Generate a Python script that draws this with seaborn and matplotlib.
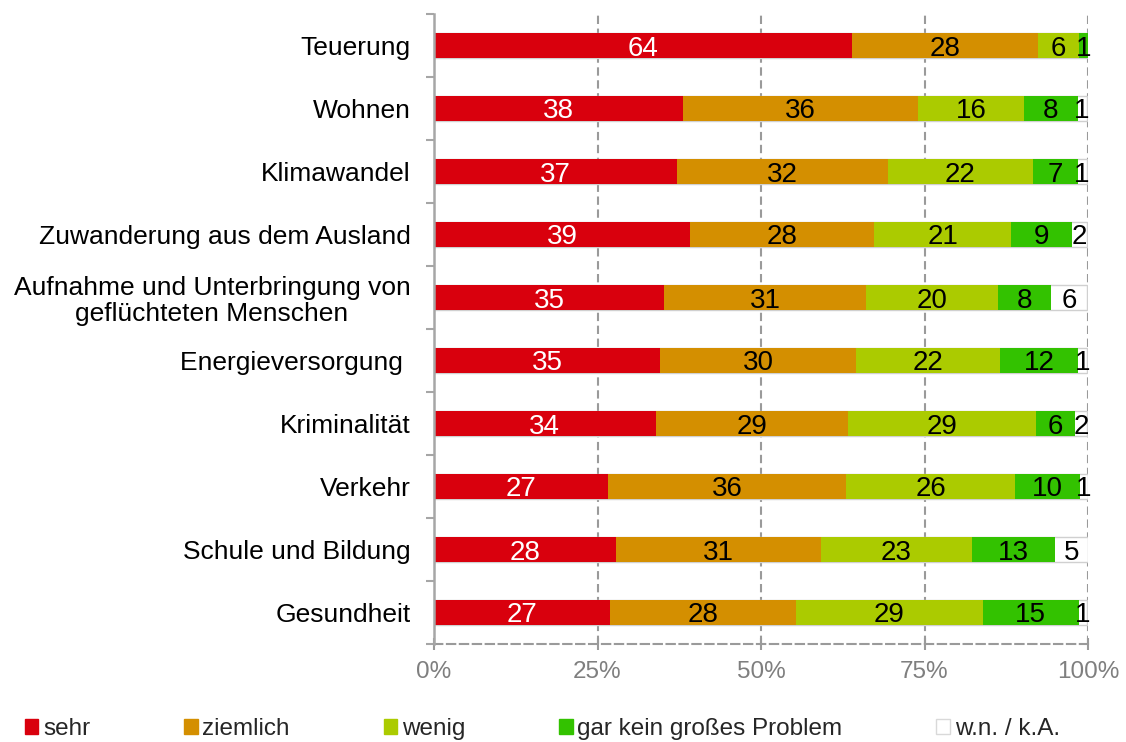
import matplotlib
matplotlib.use("Agg")
import matplotlib.pyplot as plt
import matplotlib.ticker as mticker
from matplotlib.patches import Patch
import numpy as np
import pandas as pd
import seaborn as sns

sns.set_theme(style="white")
plt.rcParams["font.family"] = ["Liberation Sans", "DejaVu Sans"]

# ── data (percent) ───────────────────────────────────────────────────────────
themen = ["Teuerung", "Wohnen", "Klimawandel", "Zuwanderung aus dem Ausland",
          "Aufnahme und Unterbringung von\ngeflüchteten Menschen",
          "Energieversorgung ", "Kriminalität", "Verkehr",
          "Schule und Bildung", "Gesundheit"]
sehr = [63.9, 38.0, 37.1, 39.2, 35.2, 34.6, 33.9, 26.6, 27.9, 26.9]
ziemlich = [28.4, 36.0, 32.3, 28.1, 30.8, 30.0, 29.4, 36.4, 31.2, 28.4]
wenig = [6.4, 16.2, 22.2, 21.0, 20.3, 21.9, 28.7, 25.9, 23.2, 28.6]
gar_kein = [1.3, 8.2, 6.8, 9.2, 8.0, 12.0, 6.0, 9.9, 12.6, 14.7]
wn_ka = [0.0, 1.4, 1.4, 2.3, 5.6, 1.4, 1.9, 1.2, 5.1, 1.3]

series_names = ["sehr", "ziemlich", "wenig", "gar kein großes Problem", "w.n. / k.A."]
series_vals = [sehr, ziemlich, wenig, gar_kein, wn_ka]
colors = ["#d9000d", "#d48f00", "#abcb00", "#33c200", "#ffffff"]
text_colors = ["white", "black", "black", "black", "black"]

df = pd.DataFrame({name: vals for name, vals in zip(series_names, series_vals)},
                  index=themen)
cum = df.cumsum(axis=1)
left = cum - df

# ── figure ───────────────────────────────────────────────────────────────────
fig = plt.figure(figsize=(11.26, 7.42), dpi=100)
ax = fig.add_axes([434 / 1126, 1 - 644 / 742, (1088 - 434) / 1126, 630 / 742])

grid_col = "#9a9a9a"
axis_col = "#a6a6a6"

# stacked bars: draw cumulative layers from the back to the front
for i in range(len(series_names) - 1, -1, -1):
    name = series_names[i]
    edge = "#d0d0d0" if colors[i] == "#ffffff" else colors[i]
    lw = 1.0 if colors[i] == "#ffffff" else 0
    sns.barplot(x=cum[name].values, y=themen, orient="h", color=colors[i],
                width=0.40, edgecolor=edge, linewidth=lw, saturation=1,
                ax=ax, zorder=3)

# value labels
for i, name in enumerate(series_names):
    for j, v in enumerate(df[name].values):
        if v <= 0:
            continue
        ax.text(left[name].values[j] + v / 2, j, f"{v:.0f}",
                ha="center", va="center_baseline", fontsize=20,
                color=text_colors[i], zorder=5)

ax.set_xlim(0, 100)
ax.set_ylim(len(themen) - 0.5, -0.5)
ax.set_xlabel("")
ax.set_ylabel("")

# grid lines (dashed, vertical)
for xv in [25, 50, 75, 100]:
    ax.axvline(xv, color=grid_col, lw=1.5, ls=(0, (4, 2.2)), zorder=1)

# spines
for s in ["top", "right"]:
    ax.spines[s].set_visible(False)
ax.spines["left"].set_color(axis_col)
ax.spines["left"].set_linewidth(1.8)
ax.spines["left"].set_zorder(4)
ax.spines["bottom"].set_color(grid_col)
ax.spines["bottom"].set_linewidth(1.5)
ax.spines["bottom"].set_linestyle((0, (4, 2.2)))

# x axis
ax.xaxis.set_major_locator(mticker.FixedLocator([0, 25, 50, 75, 100]))
ax.xaxis.set_major_formatter(mticker.FuncFormatter(lambda v, p: f"{v:.0f}%"))
ax.tick_params(axis="x", which="major", direction="inout", length=8, width=1.5,
               color=grid_col, labelsize=17.5, labelcolor="#7f7f7f", pad=8,
               bottom=True)

# y axis: labels at centers, tick marks between categories
ax.yaxis.set_major_locator(mticker.FixedLocator(range(len(themen))))
ax.set_yticklabels(themen)
ax.yaxis.set_minor_locator(mticker.FixedLocator(np.arange(-0.5, len(themen), 1)))
ax.tick_params(axis="y", which="major", length=0, labelsize=19,
               labelcolor="black", pad=17, left=True)
ax.tick_params(axis="y", which="minor", direction="out", length=6, width=1.5,
               color=axis_col, left=True)
for lab in ax.get_yticklabels():
    lab.set_multialignment("center")
    lab.set_linespacing(1.1)

ax.grid(False)

# legend
handles = [Patch(facecolor=c, edgecolor=("#d9d9d9" if c == "#ffffff" else c),
                 linewidth=1.0) for c in colors]
fig.legend(handles, series_names, loc="center left",
           bbox_to_anchor=(25 / 1126, 1 - 729 / 742), ncol=5, frameon=False,
           fontsize=17.5, handlelength=0.55, handleheight=0.55,
           handletextpad=0.2, columnspacing=3.86, borderpad=0,
           borderaxespad=0)

fig.savefig("out.png", dpi=100)
